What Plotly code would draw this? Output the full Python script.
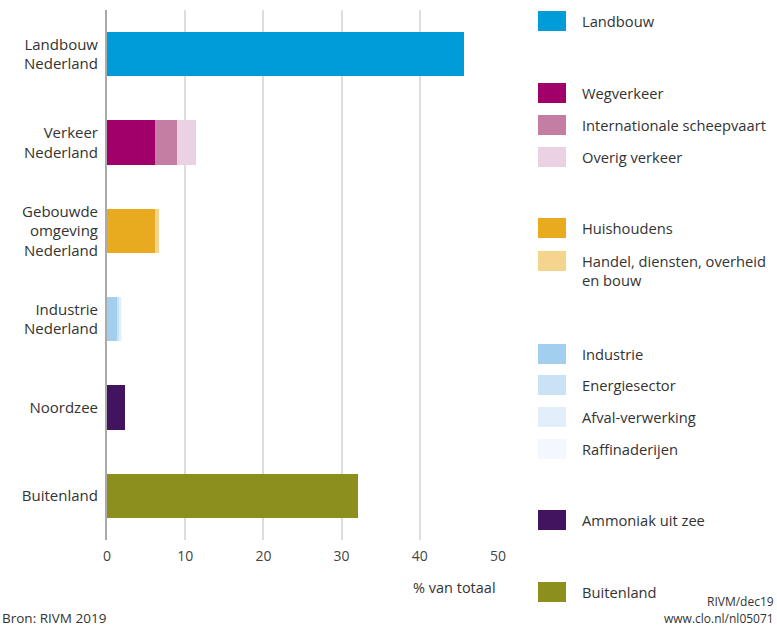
import plotly.graph_objects as go

# ---- data ----
categories = [
    "Landbouw<br>Nederland",
    "Verkeer<br>Nederland",
    "Gebouwde<br>omgeving<br>Nederland",
    "Industrie<br>Nederland",
    "Noordzee",
    "Buitenland",
]
series_names = [
    "Landbouw",
    "Wegverkeer",
    "Internationale scheepvaart",
    "Overig verkeer",
    "Huishoudens",
    "Handel, diensten, overheid<br>en bouw",
    "Industrie",
    "Energiesector",
    "Afval-verwerking",
    "Raffinaderijen",
    "Ammoniak uit zee",
    "Buitenland",
]
series_category = [0, 1, 1, 1, 2, 2, 3, 3, 3, 3, 4, 5]
series_values = [45.7, 6.1, 2.9, 2.4, 6.1, 0.5, 1.3, 0.3, 0.2, 0.1, 2.3, 32.1]
x_ticks = [0, 10, 20, 30, 40, 50]

# ---- styles ----
colors = ["#009bd9", "#a1006b", "#c47da3", "#ead2e2", "#e8aa1e", "#f5d48e",
          "#a3cfef", "#c9e2f6", "#e2effa", "#f2f8fd", "#42145f", "#8c8f1e"]
legend_y_px = [21, 93, 125, 157, 228, 261, 354, 385, 417, 449, 520, 592]

W, H = 777, 628
L, R, T, B = 107, 279, 10, 88
pw, ph = W - L - R, H - T - B

def px2x(px):
    return (px - L) / pw

def py2y(py):
    return (H - B - py) / ph

fig = go.Figure()
for name, ci, v, c in zip(series_names, series_category, series_values, colors):
    fig.add_trace(go.Bar(
        y=[categories[ci]], x=[v], orientation="h", name=name,
        marker=dict(color=c, line=dict(width=0)), width=0.5, showlegend=False,
    ))

shapes = []
annotations = []
for name, c, py in zip(series_names, colors, legend_y_px):
    shapes.append(dict(type="rect", xref="paper", yref="paper",
                       x0=px2x(538), x1=px2x(566), y0=py2y(py + 10), y1=py2y(py - 10),
                       fillcolor=c, line=dict(width=0), layer="above"))
    annotations.append(dict(xref="paper", yref="paper", x=px2x(580), y=py2y(py - 12),
                            text=name, showarrow=False, xanchor="left", yanchor="top",
                            align="left", font=dict(size=14.7, color="#333333")))

annotations.append(dict(xref="paper", yref="paper", x=px2x(498), y=py2y(587),
                        text="% van totaal", showarrow=False, xanchor="right",
                        yanchor="middle", font=dict(size=14.5, color="#333333")))
annotations.append(dict(xref="paper", yref="paper", x=px2x(0), y=py2y(618),
                        text="Bron: RIVM 2019", showarrow=False, xanchor="left",
                        yanchor="middle", font=dict(size=13.5, color="#333333")))
annotations.append(dict(xref="paper", yref="paper", x=px2x(776), y=py2y(601),
                        text="RIVM/dec19", showarrow=False, xanchor="right",
                        yanchor="middle", font=dict(size=12, color="#333333")))
annotations.append(dict(xref="paper", yref="paper", x=px2x(776), y=py2y(618),
                        text="www.clo.nl/nl05071", showarrow=False, xanchor="right",
                        yanchor="middle", font=dict(size=12, color="#333333")))

fig.update_layout(
    width=W, height=H,
    margin=dict(l=L, r=R, t=T, b=B, pad=0),
    paper_bgcolor="white", plot_bgcolor="white",
    barmode="stack",
    font=dict(family="Open Sans", size=14, color="#333333"),
    shapes=shapes, annotations=annotations,
    xaxis=dict(range=[0, 50], tickvals=x_ticks, showgrid=True, gridcolor="#dddddd",
               gridwidth=1.5, zeroline=False, showline=False,
               tickfont=dict(size=14, color="#444444"), ticks="", ticklabelstandoff=6),
    yaxis=dict(categoryorder="array", categoryarray=categories, autorange="reversed",
               showline=True, linecolor="#aaaaaa", linewidth=2, showgrid=False,
               ticks="", ticklabelstandoff=4,
               tickfont=dict(size=15, color="#333333")),
)

fig.write_html("out.html", config={"displayModeBar": False},
               post_script="document.body.style.margin='0px';document.body.style.overflow='hidden';")
